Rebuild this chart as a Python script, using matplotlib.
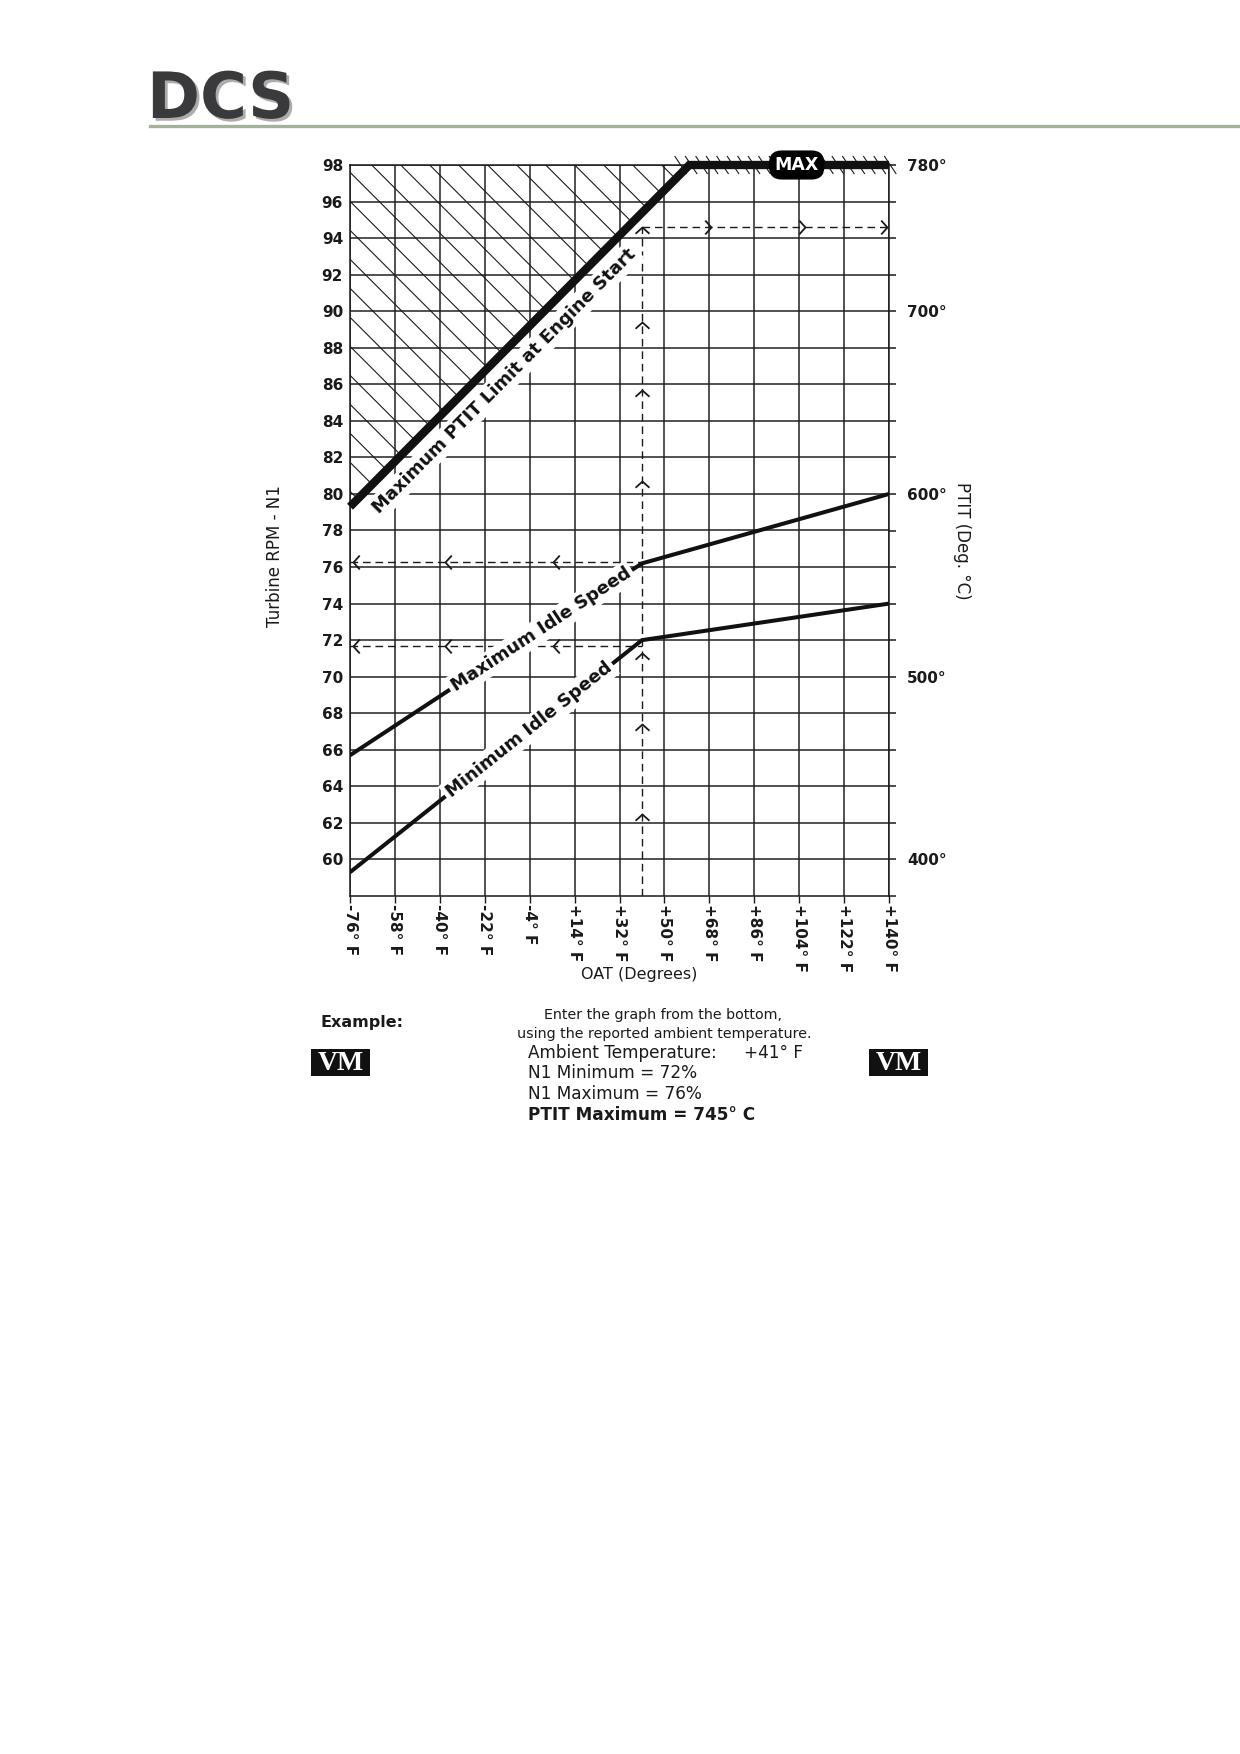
import numpy as np
import matplotlib
matplotlib.use('Agg')
import matplotlib.pyplot as plt
from matplotlib.path import Path
from matplotlib.patches import Polygon, Rectangle
from matplotlib.collections import LineCollection
from matplotlib.lines import Line2D
import matplotlib.patheffects as pe

plt.rcParams['font.family'] = ['DejaVu Sans']

# ---------------- data ----------------
oat_ticks = [-76, -58, -40, -22, -4, 14, 32, 50, 68, 86, 104, 122, 140]
oat_labels = ['-76° F', '-58° F', '-40° F', '-22° F', '-4° F', '+14° F', '+32° F',
              '+50° F', '+68° F', '+86° F', '+104° F', '+122° F', '+140° F']
n1_ticks = list(range(60, 99, 2))
ptit_ticks = [400, 500, 600, 700, 780]
ptit_labels = ['400°', '500°', '600°', '700°', '780°']

ptit_limit_oat = [-76, 60, 140]
ptit_limit_n1 = [79.3, 98.0, 98.0]
max_idle_oat = [-76, 41, 140]
max_idle_n1 = [65.7, 76.2, 80.0]
min_idle_oat = [-76, 41, 140]
min_idle_n1 = [59.3, 72.0, 74.0]

example_oat = 41
example_ptit_n1 = 94.6
example_max_n1 = 76.3
example_min_n1 = 71.7
up_arrows_n1 = [62.5, 67.4, 71.3, 80.7, 85.7, 89.4, 94.6]
right_arrows_oat = [68.7, 106.4, 139.0]
left_arrows_oat = [-74.8, -38.0, 5.5]

W, H = 1240, 1754
fig = plt.figure(figsize=(W / 100, H / 100), dpi=100)
fig.patch.set_facecolor('white')

L, R, T, B = 350, 889, 165, 896
ax = fig.add_axes([L / W, 1 - B / H, (R - L) / W, (B - T) / H])
ax.set_xlim(-76, 140)
ax.set_ylim(58, 98)

ink = '#1a1a1a'

# grid and ticks
ax.set_xticks(oat_ticks)
ax.set_xticklabels(oat_labels, rotation=-90, fontweight='bold', fontsize=11)
ax.set_yticks(n1_ticks)
ax.set_yticklabels([str(v) for v in n1_ticks], fontweight='bold', fontsize=11)
ax.tick_params(axis='x', direction='out', length=5, width=1.0, pad=1, colors=ink)
ax.tick_params(axis='y', length=0, pad=5, colors=ink)
ax.grid(True, color='#222222', lw=1.1)
for s in ax.spines.values():
    s.set_color(ink)
    s.set_linewidth(1.1)

ax2 = ax.twinx()
ax2.set_ylim(380, 780)
ax2.set_yticks(ptit_ticks)
ax2.set_yticklabels(ptit_labels, fontweight='bold', fontsize=11)
ax2.set_yticks([v for v in range(380, 781, 20) if v not in ptit_ticks], minor=True)
ax2.tick_params(axis='y', which='both', direction='out', length=5, width=1.1, pad=8, colors=ink)
for s in ax2.spines.values():
    s.set_visible(False)

# pixel scale helpers
px_per_F = (R - L) / 216.0
px_per_N1 = (B - T) / 40.0
k = px_per_F / px_per_N1  # 45 degree slope in data units

# hatch region above the PTIT limit line
clip_poly = Polygon([(ptit_limit_oat[0], 98)] + list(zip(ptit_limit_oat[:2], ptit_limit_n1[:2])),
                    closed=True, transform=ax.transData, fc='none', ec='none')
ax.add_patch(clip_poly)
hatch_spacing = 29 / px_per_F
hatch_first = -67.3
segs = []
for n in range(-14, 16):
    f0 = hatch_first + n * hatch_spacing
    segs.append([(f0 - 250, 98 + 250 * k), (f0 + 250, 98 - 250 * k)])
hatch = LineCollection(segs, colors=ink, linewidths=0.8, zorder=2)
hatch.set_clip_path(clip_poly)
ax.add_collection(hatch)

# short hatch ticks above the MAX plateau
tick_segs = []
dxF = 6 / px_per_F
dyN = 9 / px_per_N1
for f in np.arange(56.5, 141, 4.2):
    tick_segs.append([(f - dxF, 98 + dyN), (f + dxF, 98 - dyN)])
ticks_lc = LineCollection(tick_segs, colors=ink, linewidths=0.8, zorder=3, clip_on=False)
ax.add_collection(ticks_lc)

# main curves
ax.plot(ptit_limit_oat, ptit_limit_n1, color='#111111', lw=6, solid_capstyle='butt',
        solid_joinstyle='miter', clip_on=False, zorder=4)
ax.plot(max_idle_oat, max_idle_n1, color='#111111', lw=2.9, solid_capstyle='butt', zorder=4)
ax.plot(min_idle_oat, min_idle_n1, color='#111111', lw=2.9, solid_capstyle='butt', zorder=4)

# example dashed path
dash = (0, (5.5, 3.5))
ax.plot([example_oat, example_oat], [58, example_ptit_n1], color=ink, lw=1.0, ls=dash, zorder=3)
ax.plot([example_oat, 140], [example_ptit_n1, example_ptit_n1], color=ink, lw=1.0, ls=dash, zorder=3)
ax.plot([-76, example_oat], [example_max_n1, example_max_n1], color=ink, lw=1.0, ls=dash, zorder=3)
ax.plot([-76, example_oat], [example_min_n1, example_min_n1], color=ink, lw=1.0, ls=dash, zorder=3)

up_m = Path([(-1, -0.9), (0, 0), (1, -0.9)], [Path.MOVETO, Path.LINETO, Path.LINETO])
right_m = Path([(-0.9, 1), (0, 0), (-0.9, -1)], [Path.MOVETO, Path.LINETO, Path.LINETO])
left_m = Path([(0.9, 1), (0, 0), (0.9, -1)], [Path.MOVETO, Path.LINETO, Path.LINETO])
mk = dict(ls='none', mfc='none', mec=ink, ms=10, mew=1.3, zorder=3)
ax.plot([example_oat] * len(up_arrows_n1), up_arrows_n1, marker=up_m, **mk)
ax.plot(right_arrows_oat, [example_ptit_n1] * len(right_arrows_oat), marker=right_m, **mk)
ax.plot(left_arrows_oat, [example_max_n1] * len(left_arrows_oat), marker=left_m, **mk)
ax.plot(left_arrows_oat, [example_min_n1] * len(left_arrows_oat), marker=left_m, **mk)


def seg_angle(xs, ys, i):
    p = ax.transData.transform([(xs[i], ys[i]), (xs[i + 1], ys[i + 1])])
    return np.degrees(np.arctan2(p[1, 1] - p[0, 1], p[1, 0] - p[0, 0]))


lab = dict(ha='center', va='center', rotation_mode='anchor', fontsize=13, fontweight='bold',
           color='#111111', zorder=5,
           bbox=dict(boxstyle='square,pad=0.18', fc='white', ec='none'))
ax.text(-14, 86.2, 'Maximum PTIT Limit at Engine Start',
        rotation=seg_angle(ptit_limit_oat, ptit_limit_n1, 0), **lab)
ax.text(0.5, np.interp(0.5, max_idle_oat, max_idle_n1), 'Maximum Idle Speed',
        rotation=seg_angle(max_idle_oat, max_idle_n1, 0), **lab)
ax.text(-4.3, np.interp(-4.3, min_idle_oat, min_idle_n1), 'Minimum Idle Speed',
        rotation=seg_angle(min_idle_oat, min_idle_n1, 0), **lab)

ax.text(103, 98, 'MAX', ha='center', va='center', color='white', fontsize=12.5, fontweight='bold',
        zorder=6, bbox=dict(boxstyle='round,pad=0.28,rounding_size=0.7', fc='black', ec='black'))

# axis labels
ax.set_ylabel('Turbine RPM - N1', fontsize=12, color=ink)
ax.yaxis.set_label_coords((284 - L) / (R - L), (B - 556) / (B - T))
ax2.set_ylabel('PTIT (Deg. °C)', fontsize=12, color=ink, rotation=-90, va='center', ha='center')
ax2.yaxis.set_label_coords((962 - L) / (R - L), (B - 541) / (B - T))
ax.set_xlabel('OAT (Degrees)', fontsize=11.5, color=ink, va='center')
ax.xaxis.set_label_coords((639 - L) / (R - L), (B - 975) / (B - T))

# header
fig.text(147 / W, 1 - 118 / H, 'DCS', fontsize=46, fontweight='heavy', color='#3a3a3c',
         ha='left', va='baseline',
         path_effects=[pe.withSimplePatchShadow(offset=(2, -2), alpha=0.35)])
fig.add_artist(Line2D([150 / W, 1.0], [1 - 126 / H, 1 - 126 / H], color='#a3b396', lw=2.4))


# example block
def fx(x):
    return x / W


def fy(y):
    return 1 - y / H


fig.text(fx(320), fy(1023), 'Example:', fontsize=11.5, fontweight='bold', color=ink,
         ha='left', va='center')
fig.text(fx(663), fy(1015), 'Enter the graph from the bottom,', fontsize=10.3, color=ink,
         ha='center', va='center')
fig.text(fx(664), fy(1034), 'using the reported ambient temperature.', fontsize=10.3, color=ink,
         ha='center', va='center')
fig.text(fx(528), fy(1053), 'Ambient Temperature:', fontsize=12.2, color=ink, ha='left', va='center')
fig.text(fx(744), fy(1053), '+41° F', fontsize=12.2, color=ink, ha='left', va='center')
fig.text(fx(528), fy(1073), 'N1 Minimum = 72%', fontsize=12.2, color=ink, ha='left', va='center')
fig.text(fx(528), fy(1094), 'N1 Maximum = 76%', fontsize=12.2, color=ink, ha='left', va='center')
fig.text(fx(528), fy(1115), 'PTIT Maximum = 745° C', fontsize=12.2, fontweight='bold', color=ink,
         ha='left', va='center')

for x0 in (311, 869):
    fig.add_artist(Rectangle((fx(x0), fy(1076)), 59 / W, 27 / H, transform=fig.transFigure,
                             fc='#111111', ec='none'))
    fig.text(fx(x0 + 29.5), fy(1063), 'VM', family=['Liberation Serif', 'DejaVu Serif'],
             fontsize=20, fontweight='bold', color='white', ha='center', va='center')

fig.savefig('out.png', dpi=100, facecolor='white')
